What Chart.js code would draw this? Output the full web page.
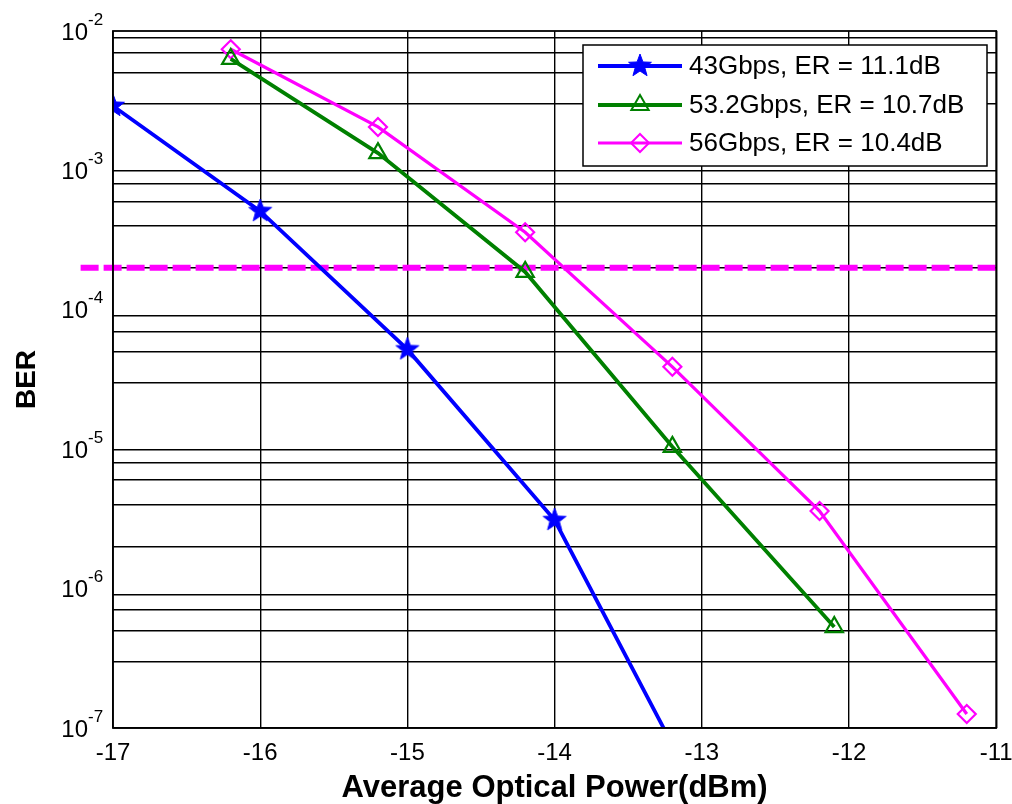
<!DOCTYPE html>
<html>
<head>
<meta charset="utf-8">
<script src="https://cdn.jsdelivr.net/npm/chart.js@4.4.1/dist/chart.umd.min.js"></script>
<style>
  html, body { margin: 0; padding: 0; background: #fff; }
  canvas { display: block; }
</style>
</head>
<body>
<canvas id="c" width="1012" height="804"></canvas>
<script>
// ---- data ----
const xTicks = [-17, -16, -15, -14, -13, -12, -11];
const yPowers = [-7, -6, -5, -4, -3, -2];

const labelBlue = '43Gbps, ER = 11.1dB';
const xBlue = [-17, -16, -15, -14, -13];
const yBlue = [2.9e-3, 5.1e-4, 5.2e-5, 3.1e-6, 3.0e-8];

const labelGreen = '53.2Gbps, ER = 10.7dB';
const xGreen = [-16.2, -15.2, -14.2, -13.2, -12.1];
const yGreen = [6.3e-3, 1.33e-3, 1.87e-4, 1.04e-5, 5.3e-7];

const labelMag = '56Gbps, ER = 10.4dB';
const xMag = [-16.2, -15.2, -14.2, -13.2, -12.2, -11.2];
const yMag = [7.4e-3, 2.05e-3, 3.6e-4, 3.9e-5, 3.6e-6, 1.26e-7];

const xThreshold = [-17.22, -11];
const yThreshold = [2e-4, 2e-4];

const xTitle = 'Average Optical Power(dBm)';
const yTitle = 'BER';

// ---- helpers ----
const FONT = "'Liberation Sans', Arial, sans-serif";
const pts = (xs, ys) => xs.map((x, i) => ({ x: x, y: ys[i] }));

function makeStar(color, R, r) {
  const s = Math.ceil(R * 2 + 2);
  const cv = document.createElement('canvas');
  cv.width = s; cv.height = s;
  const c = cv.getContext('2d');
  c.beginPath();
  for (let i = 0; i < 10; i++) {
    const rad = i % 2 === 0 ? R : r;
    const a = -Math.PI / 2 + i * Math.PI / 5;
    const px = s / 2 + rad * Math.cos(a), py = s / 2 + rad * Math.sin(a);
    if (i === 0) c.moveTo(px, py); else c.lineTo(px, py);
  }
  c.closePath();
  c.fillStyle = color; c.fill();
  c.strokeStyle = color; c.lineWidth = 1; c.stroke();
  return cv;
}
const starImg = makeStar('#0000ff', 12, 5);

// minor log ticks 1..9 x 10^k
function logTicks() {
  const t = [];
  for (let p = yPowers[0]; p < yPowers[yPowers.length - 1]; p++) {
    for (let m = 1; m < 10; m++) t.push({ value: m * Math.pow(10, p) });
  }
  t.push({ value: Math.pow(10, yPowers[yPowers.length - 1]) });
  return t;
}

const boxPlugin = {
  id: 'box',
  afterDraw(chart) {
    const ctx = chart.ctx, a = chart.chartArea;
    ctx.save();
    ctx.strokeStyle = '#000'; ctx.lineWidth = 1.8;
    ctx.strokeRect(a.left, a.top, a.right - a.left, a.bottom - a.top);
    ctx.restore();
  }
};

const yLabelPlugin = {
  id: 'ylabels',
  afterDraw(chart) {
    const ctx = chart.ctx, ys = chart.scales.y;
    ctx.save();
    ctx.fillStyle = '#000';
    yPowers.forEach(p => {
      const y = ys.getPixelForValue(Math.pow(10, p));
      ctx.font = '24px ' + FONT;
      ctx.textAlign = 'right'; ctx.textBaseline = 'middle';
      ctx.fillText('10', 88, y + 2);
      ctx.font = '17px ' + FONT;
      ctx.textAlign = 'left'; ctx.textBaseline = 'middle';
      ctx.fillText(String(p), 88, y - 11);
    });
    ctx.restore();
  }
};

const legendPlugin = {
  id: 'customLegend',
  afterDraw(chart) {
    const ctx = chart.ctx;
    const bx = 583, by = 45, bw = 404, bh = 121;
    ctx.save();
    ctx.fillStyle = '#fff';
    ctx.fillRect(bx, by, bw, bh);
    ctx.strokeStyle = '#000'; ctx.lineWidth = 1.5;
    ctx.strokeRect(bx, by, bw, bh);
    const rows = [66, 105, 143];
    const items = chart.data.datasets.filter(d => d.inLegend);
    items.forEach((d, i) => {
      const y = rows[i];
      ctx.strokeStyle = d.borderColor; ctx.lineWidth = d.borderWidth;
      ctx.setLineDash([]);
      ctx.beginPath(); ctx.moveTo(598, y); ctx.lineTo(682, y); ctx.stroke();
      const cx = 640;
      ctx.lineWidth = 2;
      if (d.pointStyle === 'triangle') {
        const r = d.pointRadius;
        ctx.beginPath();
        ctx.moveTo(cx, y - r);
        ctx.lineTo(cx + r * Math.sin(Math.PI * 2 / 3), y - r * Math.cos(Math.PI * 2 / 3));
        ctx.lineTo(cx - r * Math.sin(Math.PI * 2 / 3), y - r * Math.cos(Math.PI * 2 / 3));
        ctx.closePath(); ctx.stroke();
      } else if (d.pointStyle === 'rectRot') {
        const r = d.pointRadius;
        ctx.beginPath();
        ctx.moveTo(cx, y - r); ctx.lineTo(cx + r, y); ctx.lineTo(cx, y + r); ctx.lineTo(cx - r, y);
        ctx.closePath(); ctx.stroke();
      } else {
        const im = d.pointStyle;
        ctx.drawImage(im, cx - im.width / 2, y - im.height / 2);
      }
      ctx.fillStyle = '#000';
      ctx.font = '26px ' + FONT;
      ctx.textAlign = 'left'; ctx.textBaseline = 'middle';
      ctx.fillText(d.label, 689, y + 1);
    });
    ctx.restore();
  }
};

new Chart(document.getElementById('c'), {
  type: 'line',
  data: {
    datasets: [
      {
        label: labelBlue, inLegend: true,
        data: pts(xBlue, yBlue),
        borderColor: '#0000ff', borderWidth: 3.8,
        pointStyle: starImg, pointRadius: 12,
        backgroundColor: '#0000ff', order: 1
      },
      {
        label: labelGreen, inLegend: true,
        data: pts(xGreen, yGreen),
        borderColor: '#008000', borderWidth: 3.8,
        pointStyle: 'triangle', pointRadius: 10, pointBorderWidth: 2.2,
        pointBackgroundColor: 'rgba(0,0,0,0)', backgroundColor: 'rgba(0,0,0,0)', order: 1
      },
      {
        label: labelMag, inLegend: true,
        data: pts(xMag, yMag),
        borderColor: '#ff00ff', borderWidth: 3.2,
        pointStyle: 'rectRot', pointRadius: 9, pointBorderWidth: 2.2,
        pointBackgroundColor: 'rgba(0,0,0,0)', backgroundColor: 'rgba(0,0,0,0)', order: 1
      },
      {
        label: 'threshold', inLegend: false,
        data: pts(xThreshold, yThreshold),
        borderColor: '#ff00ff', borderWidth: 6, borderDash: [18, 5],
        pointRadius: 0, clip: false, order: 5
      }
    ]
  },
  options: {
    responsive: false,
    animation: false,
    devicePixelRatio: 1,
    layout: { padding: { left: 0, top: 31, right: 14, bottom: 0 } },
    plugins: { legend: { display: false }, tooltip: { enabled: false } },
    elements: { line: { tension: 0 } },
    scales: {
      x: {
        type: 'linear', min: -17, max: -11,
        afterBuildTicks: s => { s.ticks = xTicks.map(v => ({ value: v })); },
        afterFit: s => { s.height = 76; s.paddingLeft = 0; s.paddingRight = 0; },
        ticks: { color: '#000', font: { family: FONT, size: 24 }, padding: 11, maxRotation: 0 },
        grid: { color: '#000', lineWidth: 1.4, drawTicks: false },
        border: { display: false },
        title: { display: true, text: xTitle, color: '#000', font: { family: FONT, size: 31, weight: 'bold' }, padding: { top: 0, bottom: -3 } }
      },
      y: {
        type: 'logarithmic', min: 1e-7, max: 1e-2,
        afterBuildTicks: s => { s.ticks = logTicks(); },
        afterFit: s => { s.width = 113; s.paddingTop = 0; s.paddingBottom = 0; },
        ticks: { callback: () => '', padding: 0 },
        grid: { color: '#000', lineWidth: 1.4, drawTicks: false },
        border: { display: false },
        title: { display: true, text: yTitle, color: '#000', font: { family: FONT, size: 28, weight: 'bold' }, padding: { top: 10, bottom: 0 } }
      }
    }
  },
  plugins: [boxPlugin, yLabelPlugin, legendPlugin]
});
</script>
</body>
</html>
